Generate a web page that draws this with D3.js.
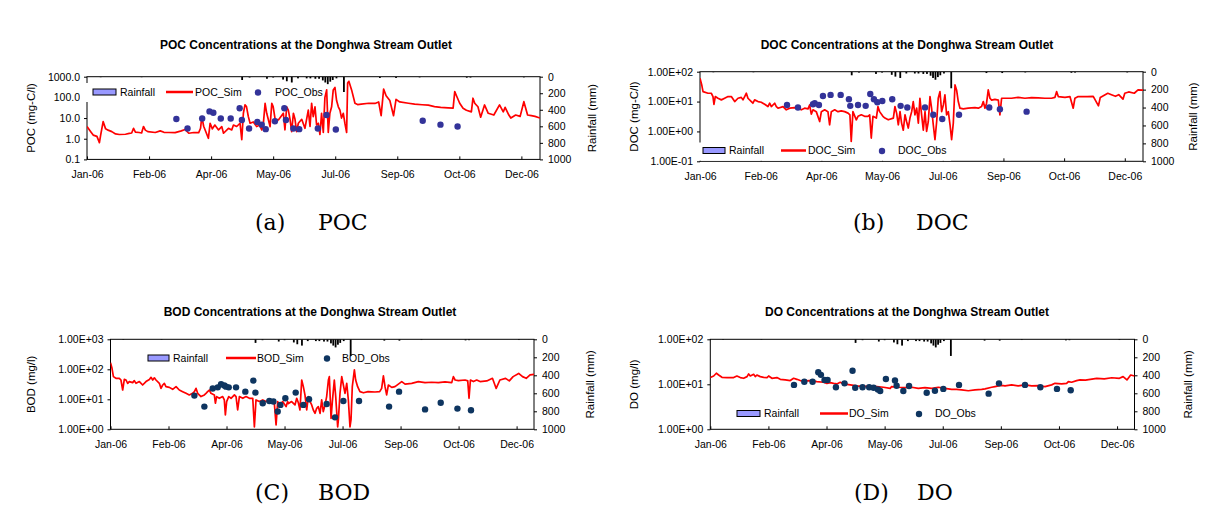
<!DOCTYPE html>
<html><head><meta charset="utf-8">
<script src="https://cdn.jsdelivr.net/npm/d3@7"></script>
<style>
body{margin:0;background:#fff}
svg{display:block}
</style>
</head><body>
<svg id="c" width="1227" height="524"></svg>
<script>
// ---------- DATA (day of year 2006, value) ----------
const xTickDays = [0, 50, 100, 150, 200, 250, 300, 350];
const xTickLabels = ["Jan-06","Feb-06","Apr-06","May-06","Jul-06","Sep-06","Oct-06","Dec-06"];
const rainTicks = [0, 200, 400, 600, 800, 1000];
const rainTickLabels = ["0","200","400","600","800","1000"];

// daily rainfall (mm)
const rainfall = [[11,6],[44,6],[125,40],[131,10],[145,25],[150,10],[158,35],[161,55],[165,70],[170,20],[177,20],[180,20],[184,25],[187,25],[190,45],[192,70],[194,90],[196,60],[198,40],[201,20],[207,185],[236,15],[249,15],[268,8],[306,12],[309,10],[352,8]];

const pocYTicks = [0.1, 1, 10, 100, 1000];
const pocYTickLabels = ["0.1","1.0","10.0","100.0","1000.0"];
const pocSim = [[0,3.9],[3,2.2],[5,1.5],[8,1.3],[10,0.65],[11,1.5],[13,6.7],[15,3.0],[17,2.6],[20,2.2],[23,1.7],[26,1.6],[31,1.65],[34,1.8],[36,1.9],[37.5,3.2],[39,2.1],[42,2.0],[44,1.9],[45.5,3.9],[47,2.6],[49,2.2],[55,2.0],[59,2.4],[62,2.05],[66,2.0],[71,1.98],[76,2.4],[79,2.8],[82,1.84],[86,2.0],[90,1.98],[91.5,3.2],[92.5,11.7],[94,4.0],[97.8,1.05],[99.2,5.6],[101,3.0],[103,4.6],[106,2.66],[108.6,3.85],[110,1.84],[114,3.2],[116.6,2.66],[118,4.6],[120.6,3.9],[123.3,5.6],[124.7,0.9],[126,17],[127.3,43],[128.5,36],[130,11.7],[131.4,5.6],[134,6.5],[136.7,3.85],[139,4.6],[140.8,2.66],[142,4.6],[143.5,51],[144.8,17],[146.2,8.1],[147.5,3.85],[148.9,51],[150,36],[151.6,8.7],[154.2,8.1],[158.2,17],[159.5,2.7],[160.9,35],[162.2,24],[163.6,8.7],[164.9,2.2],[166.3,17],[167.6,8.7],[168.9,2.2],[170.3,5.6],[173,8.7],[175.6,3.2],[178.3,24],[179.7,3.9],[181,51],[182.3,11.7],[183.7,35],[185,4.6],[186.4,5.6],[187.7,1.6],[189,17],[190.4,2.0],[191.7,100],[193.1,230],[194.4,2.0],[195.7,17],[197.1,35],[198.4,230],[199.8,300],[201.1,70],[202.5,35],[203.8,24],[205.1,10],[206.5,17],[207.8,5.6],[209.2,2.0],[210,500],[211,600],[213.2,230],[215.9,52],[218,45],[221,47],[227,52],[232,51],[235,60],[237,13],[239,250],[241,120],[244,70],[247,13],[249,80],[252,60],[259,52],[264,47],[270,44],[275,42],[280,36],[285,33],[291,31],[295,30],[296.3,190],[297.7,120],[300.3,52],[303,30],[305.7,24],[309.7,20],[311,91],[312.4,52],[315,35],[317.2,11],[320.3,43],[323.3,17],[327.8,14],[332.4,43],[335.4,20],[336.9,33],[339.9,14],[341.5,10],[345.4,14],[349,12],[352,62],[355,14],[358,13],[361,12],[365,10]];
const pocObs = [[72,9],[81,3.1],[92.8,9.5],[98.7,21],[101.8,18],[107.8,9.5],[115.8,9.5],[123,30],[124.8,8],[130.6,3.1],[137.2,6.5],[140.8,4.8],[144,2.9],[151.4,7],[159,30],[160.3,8],[166.3,3.1],[171,2.9],[186,3.1],[193,14],[200.5,2.8],[270.5,7.4],[284.8,4.8],[298.6,3.9]];

const docYTicks = [0.1, 1, 10, 100];
const docYTickLabels = ["1.00E-01","1.00E+00","1.00E+01","1.00E+02"];
const docSim = [[0,60],[1.5,35],[2.5,21.5],[6.6,19],[9.3,19],[10.7,14.7],[11.5,8.1],[12.6,14.7],[14.8,12.9],[17.6,11.4],[20.3,12.9],[23.1,14.7],[25.8,14.7],[28.6,10],[31.3,12.9],[34,13.8],[35.4,11.4],[36.8,14.7],[38.2,19],[39.5,12.9],[42.3,10],[43.6,8.8],[45,11.4],[47.8,10],[50.5,9.5],[53.3,8.1],[56,6.8],[57.4,8.8],[58.8,6.8],[61.5,8.8],[62.9,6.8],[64.3,6.0],[68.4,6.8],[71.1,5.3],[73.9,6.0],[78,6.3],[80.7,6.0],[83.5,5.3],[86.2,6.0],[89,5.7],[90.3,7.7],[91.7,3.8],[93.1,5.3],[95.8,4.6],[98.6,2.15],[100,4.6],[102.7,5.3],[105.4,4.6],[106.8,1.67],[108.2,4.6],[111,5.3],[113.7,4.6],[116.4,4.9],[119.2,4.6],[122,4.1],[123.5,3.6],[124.6,0.46],[126,4.6],[128.8,2.45],[130.2,3.2],[132.9,3.6],[135.6,3.2],[138.4,3.2],[139.8,3.6],[141.1,0.6],[142.5,3.2],[145.3,2.8],[146.6,6.8],[148,4.6],[150.7,3.2],[152.4,2.8],[155.1,2.45],[159.3,2.8],[160.6,6.8],[162,4.1],[163.4,1.67],[164.8,4.6],[166.1,1.9],[167.5,1.1],[168.9,3.6],[170.2,2.15],[171.6,1.3],[173,2.8],[174.4,4.6],[175.7,10],[177.1,3.6],[178.5,6.0],[179.9,1.9],[181.2,12.9],[182.6,3.6],[184,1.1],[185.4,4.6],[186.7,1.0],[188.1,2.15],[189.5,14.7],[190.8,6.0],[192.2,1.67],[193.6,0.53],[195,2.15],[196.3,12.9],[197.7,21.5],[199.1,4.6],[200.5,7.7],[201.8,16.7],[203.2,3.6],[204.6,4.6],[206,1.67],[207.3,0.53],[208.7,1.9],[210.1,36],[211.4,24.5],[212.8,10],[214.2,6.0],[216.9,5.7],[221,6.0],[226.5,6.3],[229.3,6.0],[232,6.8],[233.4,10],[234.8,6.0],[236.1,8.8],[237.5,24.5],[238.9,12.9],[240.3,11.2],[243,11.9],[245.8,11.2],[247.1,3.6],[248.5,12.9],[251.2,12.9],[256.7,12.9],[262.2,13.8],[267.7,12.9],[273.2,13.5],[278.7,13.2],[284.2,12.9],[289.7,12.9],[292.4,13.8],[293.8,21.5],[295.2,14.7],[300.7,13.8],[304.8,14.7],[307.5,6.0],[308.9,12.9],[311.6,14.7],[317.1,14.7],[319,14.7],[324,15],[328.3,7.2],[329.8,13.8],[336,19],[339,17],[342.3,15],[345,17],[348.5,12],[350,19],[353.2,21],[357.8,19],[360.9,24.5],[365,24]];
const docObs = [[71.7,7.7],[80.7,6.3],[93.1,8.1],[94.5,8.8],[98,7.7],[101.3,15.4],[107.6,16.7],[115.9,16.7],[122.7,12],[123.8,7.2],[130.2,7.7],[136.5,7.2],[140.3,18],[143.3,12],[146.1,9.5],[150.2,10.5],[158.4,12],[165.3,7.2],[170.8,6.3],[185.4,6.3],[192.2,3.6],[199.6,2.6],[213.4,3.6],[238.3,6.3],[247.1,5.5],[269.1,4.6]];

const bodYTicks = [1, 10, 100, 1000];
const bodYTickLabels = ["1.00E+00","1.00E+01","1.00E+02","1.00E+03"];
const bodSim = [[0,167],[1.3,108],[2.5,57],[4.7,50],[7.6,50],[9,44],[10.5,20.4],[11.9,46],[13.4,44],[14.8,34],[16.2,39],[19.1,36],[20.5,42],[22,34],[24.9,39],[27.7,30],[30.6,39],[33.5,46],[34.9,54],[36.4,44],[37.8,52],[39.2,44],[42.1,34],[43.5,23.2],[45,30],[46.4,34],[47.8,26.4],[50.7,25],[53.6,21.5],[56.5,26.4],[59.3,20.4],[62.2,18],[65.1,15.8],[67.9,14],[70.8,15.8],[72.3,18],[73.7,23.2],[75.1,15.8],[78,12.3],[80.9,14],[82.3,15.8],[83.7,18],[85.2,20.4],[86.6,15.8],[89.5,14],[90.4,7.4],[91.5,12.3],[93.8,10.8],[96.7,12.3],[98.1,9.5],[99,3.0],[100.1,8.4],[101.9,12.3],[103.9,10.8],[106.8,14],[108.2,12.3],[109.6,4.4],[111.1,12.3],[114,10.8],[116.8,12.3],[119.7,10.8],[122.6,10.8],[124,1.2],[125.4,9.5],[128.3,8.4],[131.2,9.5],[134.1,8.4],[136.9,9.5],[139.8,8.4],[141.2,7.4],[142.7,1.4],[144.1,8.4],[145.5,6.5],[148.4,8.4],[151.3,5.7],[152.7,8.4],[153.3,7.2],[156.1,8.4],[159,6.5],[160.5,10.8],[161.9,7.7],[163.3,4.4],[164.8,44],[166.2,26.4],[167.6,14],[169.1,4.4],[170.5,12.3],[172,8.4],[173.4,6.5],[174.8,4.4],[176.3,3.4],[177.7,5.0],[179.1,5.7],[180.6,3.4],[182,9.5],[183.4,3.9],[184.9,6.5],[186.3,12.3],[187.8,44],[188.6,57],[190.1,2.3],[191.2,8.4],[192.9,44],[194.1,12.3],[195.8,1.2],[196.4,2.1],[197.8,15.8],[199.3,57],[200.7,30],[202.1,15.8],[203.6,34],[205,9.5],[206.4,1.2],[207.3,2.1],[208.4,26.4],[210.2,95],[211.3,44],[213,26.4],[215,18],[218,16.5],[222,18],[228,17.5],[232,18],[233.7,23.2],[235.2,60],[236.6,26.4],[238,14],[239.5,30],[242.4,25],[245.2,26.4],[248.1,32],[251,39],[253.9,32],[259.6,34],[265.3,39],[271.1,36],[276.8,37],[282.6,36],[288.3,38],[294.1,36],[295.5,57],[297,44],[299.8,42],[305.6,44],[307.9,41],[309,10.8],[310.2,44],[312.8,39],[315.6,44],[318.5,39],[324.3,41],[329.2,50],[332.4,23],[335.6,44],[340.5,50],[343.7,41],[347,57],[351.8,73],[355.1,57],[358.3,50],[361.6,65],[365,68]];
const bodObs = [[72.3,13.3],[80.9,5.7],[88.1,23],[92.4,25],[95.3,31.6],[98.1,29],[99.6,26.4],[101.9,25],[108.2,25],[116.2,18],[123.1,42],[124.9,16.7],[131.2,7.4],[136.9,8.8],[140.4,8.4],[144.1,3.9],[146.4,6.5],[150.7,10.8],[159.6,16.7],[166.2,6.5],[171.1,10],[186.3,7],[193.5,2.5],[200.7,8.8],[214.2,8.8],[240.1,5.7],[248.7,18],[271.1,4.6],[284.6,7.7],[299,4.9],[310.7,4.3]];

const doYTicks = [1, 10, 100];
const doYTickLabels = ["1.00E+00","1.00E+01","1.00E+02"];
const doSim = [[0,14.1],[2.9,15.3],[5.2,17.6],[7.2,16.1],[10,14.3],[14.4,14.1],[20.1,14.1],[22.9,15.3],[25.8,14.1],[28.7,13.6],[31.6,14.8],[33,17],[34.4,15.3],[37.3,16.7],[38.7,14.8],[40.1,16.1],[43,14.8],[45.9,14.3],[48.8,14.1],[50.2,15.3],[53,13.6],[57.3,14.1],[60.2,12.9],[64.5,12.5],[68.8,12.1],[71.7,13.6],[74.5,12.9],[77.4,12.1],[80.3,11.9],[86,12.1],[91.7,11.5],[97.5,11.1],[100.3,10.5],[103.2,10.9],[106.1,10.5],[108.9,10.2],[111.8,11.1],[114.7,10.2],[120.4,9.7],[126.1,9.2],[131.9,8.9],[137.6,9.2],[143.3,8.9],[149,8.6],[154.8,8.1],[156,8.9],[161.8,8.6],[167.5,8.4],[173.3,8.6],[179,8.1],[184.7,8.4],[190.5,8.1],[196.2,8.6],[201.9,8.1],[207.7,7.7],[212,7.7],[216.3,7.5],[222,7.2],[227.8,7.5],[233.5,7.7],[236.4,7.9],[242.1,8.6],[245,8.9],[247.8,9.2],[250.7,9.5],[253.6,9.2],[259.3,9.7],[265,9.2],[270.8,9.7],[276.5,9.2],[282.3,9.3],[288,8.9],[293.7,9.7],[296.6,10.5],[302.3,10.2],[306.6,10.5],[308.1,11.5],[310.9,11.1],[315.2,12.1],[318.1,12.5],[322.8,12.4],[332.5,13.6],[339,13.2],[345.5,14.0],[352,13.6],[355.2,14.8],[358.5,12.5],[361.7,16.1],[365,15.3]];
const doObs = [[72,9.7],[80.9,11.4],[88,11.4],[92.9,18.5],[95.2,16.2],[98.3,12.5],[100.9,12.5],[108.1,8.6],[115.5,10.5],[122.4,20],[124.7,8.4],[131,8.6],[136.7,8.6],[140.5,8.4],[144.2,7.7],[146.2,7.1],[151.1,13.1],[158.9,12.1],[160.3,9.3],[166.1,7.1],[171,9.2],[186.2,6.5],[193.3,7.2],[200.5,7.9],[214,9.7],[239.5,6.2],[248.4,10.5],[270.8,9.7],[284,8.6],[298.3,7.9],[310.1,7.4]];

// ---------- LAYOUT ----------
const FONT = '"Liberation Sans", Arial, sans-serif';
const panels = [
  {title:"POC Concentrations at the Donghwa Stream Outlet", yLabel:"POC (mg-C/l)", simName:"POC_Sim", obsName:"POC_Obs",
   sim:pocSim, obs:pocObs, yTicks:pocYTicks, yLabels:pocYTickLabels, obsColor:"#333399",
   box:{l:87,r:540,t:76.7,b:159.4}, titleX:306, titleY:49, yTitleX:31, rTitleX:592,
   cap:["(a)","POC"], capX:[255,318], capY:230,
   leg:{y:92, bg:[80,83,242,19], sw:93, swT:120, ln:[166,193], lnT:195, dot:258, dotT:275}},
  {title:"DOC Concentrations at the Donghwa Stream Outlet", yLabel:"DOC (mg-C/l)", simName:"DOC_Sim", obsName:"DOC_Obs",
   sim:docSim, obs:docObs, yTicks:docYTicks, yLabels:docYTickLabels, obsColor:"#333399",
   box:{l:700,r:1143,t:71.7,b:161.3}, titleX:907, titleY:49, yTitleX:634, rTitleX:1193,
   cap:["(b)","DOC"], capX:[853,916], capY:230,
   leg:{y:150.5, bg:[696,142.5,255,18.3], sw:703, swT:729, ln:[781,806], lnT:808, dot:882, dotT:898}},
  {title:"BOD Concentrations at the Donghwa Stream Outlet", yLabel:"BOD (mg/l)", simName:"BOD_Sim", obsName:"BOD_Obs",
   sim:bodSim, obs:bodObs, yTicks:bodYTicks, yLabels:bodYTickLabels, obsColor:"#0E3560",
   box:{l:110.5,r:534,t:339.3,b:429.3}, titleX:310, titleY:316, yTitleX:31, rTitleX:590,
   cap:["(C)","BOD"], capX:[255,318], capY:500,
   leg:{y:358, bg:[142,349,250,18], sw:148, swT:173, ln:[226,256], lnT:257, dot:327, dotT:342}},
  {title:"DO Concentrations at the Donghwa Stream Outlet", yLabel:"DO (mg/l)", simName:"DO_Sim", obsName:"DO_Obs",
   sim:doSim, obs:doObs, yTicks:doYTicks, yLabels:doYTickLabels, obsColor:"#0E3560",
   box:{l:710.3,r:1134.5,t:339.3,b:429.3}, titleX:907, titleY:316, yTitleX:634, rTitleX:1188,
   cap:["(D)","DO"], capX:[854,917], capY:500,
   leg:{y:413.5, bg:[731,404,250,19], sw:737, swT:764, ln:[820,848], lnT:849, dot:919, dotT:935}}
];

const svg = d3.select("#c");
const t0 = Date.UTC(2006,0,1);
const toDate = d => new Date(t0 + d*864e5);

panels.forEach((p,pi) => {
  const {l,r,t,b} = p.box;
  const g = svg.append("g");
  const x = d3.scaleUtc().domain([toDate(0), toDate(365)]).range([l, r]);
  const y = d3.scaleLog().domain([p.yTicks[0], p.yTicks[p.yTicks.length-1]]).range([b, t]);
  const yr = d3.scaleLinear().domain([0,1000]).range([t, b]);

  // title
  g.append("text").attr("x",p.titleX).attr("y",p.titleY).attr("text-anchor","middle")
    .attr("font-family",FONT).attr("font-weight","bold").attr("font-size",12).text(p.title);

  // frame
  g.append("rect").attr("x",l).attr("y",t).attr("width",r-l).attr("height",b-t)
    .attr("fill","none").attr("stroke","#000").attr("stroke-width",1);

  // axes
  const ax = (sel) => { sel.select(".domain").remove();
    sel.selectAll("text").attr("font-family",FONT).attr("font-size",10.5).attr("fill","#000");
    sel.selectAll("line").attr("stroke","#000"); };
  g.append("g").attr("transform",`translate(${l},0)`)
    .call(d3.axisLeft(y).tickValues(p.yTicks).tickFormat((d,i)=>p.yLabels[i]).tickSize(3).tickPadding(4)).call(ax);
  g.append("g").attr("transform",`translate(${r},0)`)
    .call(d3.axisRight(yr).tickValues(rainTicks).tickFormat((d,i)=>rainTickLabels[i]).tickSize(3).tickPadding(5)).call(ax);
  g.append("g").attr("transform",`translate(0,${b})`)
    .call(d3.axisBottom(x).tickValues(xTickDays.map(toDate)).tickFormat((d,i)=>xTickLabels[i]).tickSizeInner(-3).tickSizeOuter(0).tickPadding(11)).call(ax);

  // axis titles
  const cy = (t+b)/2;
  g.append("text").attr("transform",`translate(${p.yTitleX},${cy}) rotate(-90)`).attr("text-anchor","middle")
    .attr("dy","0.35em").attr("font-family",FONT).attr("font-size",11.5).text(p.yLabel);
  g.append("text").attr("transform",`translate(${p.rTitleX},${cy}) rotate(-90)`).attr("text-anchor","middle")
    .attr("dy","0.35em").attr("font-family",FONT).attr("font-size",11.5).text("Rainfall (mm)");

  // legend background (covers the axis line like the original)
  const L = p.leg;
  g.append("rect").attr("x",L.bg[0]).attr("y",L.bg[1]).attr("width",L.bg[2]).attr("height",L.bg[3]).attr("fill","#fff");

  // clip
  const cid = "clip"+pi;
  svg.append("clipPath").attr("id",cid).append("rect").attr("x",l).attr("y",t).attr("width",r-l).attr("height",b-t);
  const pg = g.append("g").attr("clip-path",`url(#${cid})`);

  // rainfall bars (hanging from top)
  pg.selectAll("rect.rain").data(rainfall).join("rect").attr("class","rain")
    .attr("x",d=>x(toDate(d[0]))-0.9).attr("width",1.8)
    .attr("y",t).attr("height",d=>yr(d[1])-t).attr("fill","#000");

  // sim line
  const line = d3.line().x(d=>x(toDate(d[0]))).y(d=>y(d[1]));
  pg.append("path").datum(p.sim).attr("d",line).attr("fill","none").attr("stroke","#ff0000")
    .attr("stroke-width",1.7).attr("stroke-linejoin","round");

  // obs
  pg.selectAll("circle").data(p.obs).join("circle")
    .attr("cx",d=>x(toDate(d[0]))).attr("cy",d=>y(d[1])).attr("r",3.2).attr("fill",p.obsColor);

  // legend
  const ly = L.y;
  g.append("rect").attr("x",L.sw).attr("y",ly-3).attr("width",L.swT-L.sw-4).attr("height",6)
    .attr("fill","#9999ff").attr("stroke","#000").attr("stroke-width",1);
  g.append("text").attr("x",L.swT).attr("y",ly).attr("dy","0.35em").attr("font-family",FONT).attr("font-size",10.5).text("Rainfall");
  g.append("line").attr("x1",L.ln[0]).attr("x2",L.ln[1]).attr("y1",ly).attr("y2",ly).attr("stroke","#ff0000").attr("stroke-width",2.5);
  g.append("text").attr("x",L.lnT).attr("y",ly).attr("dy","0.35em").attr("font-family",FONT).attr("font-size",10.5).text(p.simName);
  g.append("circle").attr("cx",L.dot).attr("cy",ly+0.5).attr("r",3.2).attr("fill",p.obsColor);
  g.append("text").attr("x",L.dotT).attr("y",ly).attr("dy","0.35em").attr("font-family",FONT).attr("font-size",10.5).text(p.obsName);

  // caption
  const cap = g.append("text").attr("y",p.capY).attr("font-family",'"DejaVu Serif", serif').attr("font-size",22);
  cap.append("tspan").attr("x",p.capX[0]).text(p.cap[0]);
  cap.append("tspan").attr("x",p.capX[1]).text(p.cap[1]);
});
</script>
</body></html>
